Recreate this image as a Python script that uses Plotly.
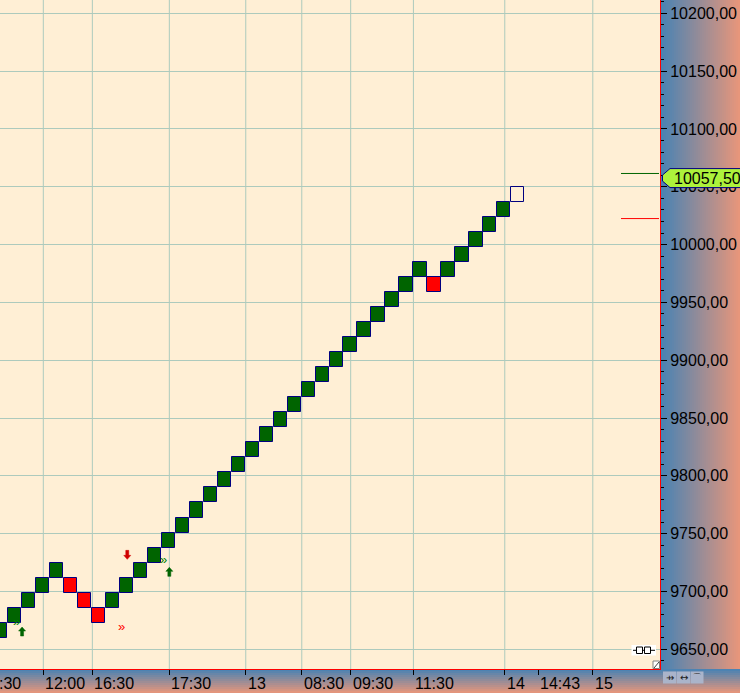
import plotly.graph_objects as go

# ---------------- data ----------------
brick_size = 13
brick_low = [9660, 9673, 9686, 9699, 9712, 9699, 9686, 9673, 9686, 9699,
             9712, 9725, 9738, 9751, 9764, 9777, 9790, 9803, 9816, 9829,
             9842, 9855, 9868, 9881, 9894, 9907, 9920, 9933, 9946, 9959,
             9972, 9959, 9972, 9985, 9998, 10011, 10024, 10037]
brick_kind = ["U", "U", "U", "U", "U", "D", "D", "D", "U", "U",
              "U", "U", "U", "U", "U", "U", "U", "U", "U", "U",
              "U", "U", "U", "U", "U", "U", "U", "U", "U", "U",
              "U", "D", "U", "U", "U", "U", "U", "O"]

time_tick_pos = [3.04, 6.55, 12.06, 17.53, 21.54, 25.04, 29.53, 36.07, 38.47, 42.37]
time_tick_labels = ["12:00", "16:30", "17:30", "13", "08:30", "09:30", "11:30", "14", "14:43", "15"]
time_grid_pos = [3.04, 6.55, 12.06, 17.53, 21.54, 25.04, 29.53, 36.07, 42.37]
edge_label = ":30"

last_price = 10057.5
level_green = 10061.5
level_red = 10022.5

arrow_x = [1.52, 9.05, 12.06]
arrow_price = [9669.3, 9727.8, 9720.9]
arrow_dir = ["up", "down", "up"]

chevron_x = [1.09, 8.64, 11.64]
chevron_price = [9673.7, 9669.7, 9728.1]
chevron_dir = ["up", "down", "up"]

# ---------------- layout constants ----------------
W, H = 740, 693
M = dict(l=0, r=80, t=0, b=24, pad=0)
PW = W - M["l"] - M["r"]
PH = H - M["t"] - M["b"]
X_RANGE = [-0.06, 47.18]
Y_RANGE = [9633.0, 10211.5]
ppx = PW / (X_RANGE[1] - X_RANGE[0])
ppy = PH / (Y_RANGE[1] - Y_RANGE[0])

BG = "#FFEFD5"
GRID = "#ADCABD"
NAVY = "#000080"
FONT = "Liberation Sans"


def px2paper_x(px):
    return px / PW


def px2paper_y(py):
    return 1 - py / PH


fill_map = {"U": "#006400", "D": "#FF0000", "O": BG}

fig = go.Figure()
fig.add_trace(go.Bar(
    x=list(range(len(brick_low))),
    y=[brick_size] * len(brick_low),
    base=brick_low,
    width=0.952,
    marker=dict(color=[fill_map[k] for k in brick_kind],
                line=dict(color=NAVY, width=1)),
    hoverinfo="skip",
    showlegend=False,
))

shapes = []

# vertical grid lines
for gx in time_grid_pos:
    shapes.append(dict(type="line", xref="x", yref="paper", x0=gx, x1=gx, y0=0, y1=1,
                       line=dict(color=GRID, width=1), layer="below"))

# gradient panels
def lerp(c1, c2, t):
    return "rgb(%d,%d,%d)" % tuple(round(a + (b - a) * t) for a, b in zip(c1, c2))

C1 = (70, 130, 180)
C2 = (233, 150, 122)
n_r = 40
for i in range(n_r):
    x0 = PW + i * (M["r"] / n_r)
    x1 = PW + (i + 1) * (M["r"] / n_r) + 0.6
    shapes.append(dict(type="rect", xref="paper", yref="paper",
                       x0=px2paper_x(x0), x1=px2paper_x(x1), y0=0, y1=1.01,
                       line=dict(width=0), fillcolor=lerp(C1, C2, (i + 0.5) / n_r), layer="below"))
n_b = 12
for i in range(n_b):
    y0 = PH + i * (M["b"] / n_b)
    y1 = PH + (i + 1) * (M["b"] / n_b) + 0.6
    shapes.append(dict(type="rect", xref="paper", yref="paper",
                       x0=-0.01, x1=px2paper_x(W + 2), y0=px2paper_y(y1), y1=px2paper_y(y0),
                       line=dict(width=0), fillcolor=lerp(C1, C2, (i + 0.5) / n_b), layer="below"))

# arrows (signals)
for ax_, ap, ad in zip(arrow_x, arrow_price, arrow_dir):
    s = 1 if ad == "up" else -1
    hw, sw = 3.5 / ppx, 1.5 / ppx
    hh, L = 4 / ppy, 9 / ppy
    pts = [(ax_, ap), (ax_ + hw, ap - s * hh), (ax_ + sw, ap - s * hh), (ax_ + sw, ap - s * L),
           (ax_ - sw, ap - s * L), (ax_ - sw, ap - s * hh), (ax_ - hw, ap - s * hh)]
    path = "M" + " L".join("%f,%f" % p for p in pts) + " Z"
    col = "#006400" if ad == "up" else "#D00000"
    shapes.append(dict(type="path", xref="x", yref="y", path=path,
                       fillcolor=col, line=dict(color=col, width=0.5), layer="above"))

# price levels
shapes.append(dict(type="line", xref="paper", yref="y", x0=px2paper_x(621), x1=px2paper_x(659),
                   y0=level_green, y1=level_green, line=dict(color="#006400", width=1)))
shapes.append(dict(type="line", xref="paper", yref="y", x0=px2paper_x(621), x1=px2paper_x(659),
                   y0=level_red, y1=level_red, line=dict(color="#FF0000", width=1)))

# last price label shape
top = last_price + 9.5 / ppy
bot = last_price - 9.5 / ppy
pts = [(670, top), (742, top), (742, bot), (670, bot),
       (662.5, last_price - 3 / ppy), (662.5, last_price + 3 / ppy)]
path = "M" + " L".join("%f,%f" % (px2paper_x(px), y) for px, y in pts) + " Z"
shapes.append(dict(type="path", xref="paper", yref="y", path=path,
                   fillcolor="#ADF23C", line=dict(color=NAVY, width=1), layer="above"))

# corner widgets
shapes.append(dict(type="rect", xref="paper", yref="paper",
                   x0=px2paper_x(631.5), x1=px2paper_x(656), y0=px2paper_y(655.5), y1=px2paper_y(645),
                   fillcolor="white", line=dict(width=0), layer="above"))
shapes.append(dict(type="line", xref="paper", yref="paper",
                   x0=px2paper_x(633), x1=px2paper_x(655), y0=px2paper_y(650.3), y1=px2paper_y(650.3),
                   line=dict(color="black", width=1), layer="above"))
shapes.append(dict(type="rect", xref="paper", yref="paper",
                   x0=px2paper_x(636.5), x1=px2paper_x(642.5), y0=px2paper_y(653.5), y1=px2paper_y(647),
                   fillcolor="white", line=dict(color="black", width=1), layer="above"))
shapes.append(dict(type="rect", xref="paper", yref="paper",
                   x0=px2paper_x(644.5), x1=px2paper_x(650.5), y0=px2paper_y(653.5), y1=px2paper_y(647),
                   fillcolor="white", line=dict(color="black", width=1), layer="above"))
shapes.append(dict(type="rect", xref="paper", yref="paper",
                   x0=px2paper_x(653), x1=px2paper_x(659.5), y0=px2paper_y(668.5), y1=px2paper_y(661),
                   fillcolor="white", line=dict(color="#808080", width=1), layer="above"))
shapes.append(dict(type="line", xref="paper", yref="paper",
                   x0=px2paper_x(654), x1=px2paper_x(659), y0=px2paper_y(668), y1=px2paper_y(662),
                   line=dict(color="#404040", width=1), layer="above"))
for bx0, bx1 in [(663, 676.5), (677, 690), (690.5, 703.5)]:
    shapes.append(dict(type="rect", xref="paper", yref="paper",
                       x0=px2paper_x(bx0), x1=px2paper_x(bx1), y0=px2paper_y(683.5), y1=px2paper_y(671.5),
                       fillcolor="#AAB4CA", line=dict(width=0), layer="above"))

annotations = []
for pos, lab in zip(time_tick_pos, time_tick_labels):
    annotations.append(dict(x=pos, xref="x", y=0, yref="paper", text=lab, showarrow=False,
                            xanchor="left", yanchor="top", xshift=0, yshift=-4,
                            font=dict(family=FONT, size=16, color="black")))
annotations.append(dict(x=0, xref="paper", y=0, yref="paper", text=edge_label, showarrow=False,
                        xanchor="left", yanchor="top", xshift=-3, yshift=-4,
                        font=dict(family=FONT, size=16, color="black")))
for cx, cp, cd in zip(chevron_x, chevron_price, chevron_dir):
    annotations.append(dict(x=cx, xref="x", y=cp, yref="y", text="»", showarrow=False,
                            font=dict(family=FONT, size=13, color="#008000" if cd == "up" else "#FF0000")))
annotations.append(dict(x=px2paper_x(672), xref="paper", y=last_price, yref="y",
                        text=("%.2f" % last_price).replace(".", ","), showarrow=False,
                        xanchor="left", yanchor="middle",
                        font=dict(family=FONT, size=16, color="black")))
for bx, g in [(669.8, "⇸"), (683.5, "↔"), (697, "⌒")]:
    annotations.append(dict(x=px2paper_x(bx), xref="paper", y=px2paper_y(677.5), yref="paper",
                            text=g, showarrow=False, xanchor="center", yanchor="middle",
                            font=dict(family="DejaVu Sans", size=10, color="#202020")))

fig.update_layout(
    width=W, height=H, margin=M,
    paper_bgcolor=BG, plot_bgcolor=BG,
    separators=", ",
    showlegend=False,
    shapes=shapes,
    annotations=annotations,
    bargap=0,
    xaxis=dict(range=X_RANGE, tickmode="array", tickvals=time_tick_pos, ticktext=[""] * len(time_tick_pos),
               showticklabels=False, showgrid=False, zeroline=False,
               ticks="outside", ticklen=5, tickcolor="black", tickwidth=1,
               showline=True, linecolor="#FF0000", linewidth=1, fixedrange=True),
    yaxis=dict(range=Y_RANGE, side="right", dtick=50, tick0=0, tickformat=".2f",
               showgrid=True, gridcolor=GRID, gridwidth=1, zeroline=False,
               ticks="outside", ticklen=6, tickcolor="black", tickwidth=1,
               minor=dict(dtick=10, ticks="outside", ticklen=3, tickcolor="black", showgrid=False),
               tickfont=dict(family=FONT, size=16, color="black"),
               showline=True, linecolor="#FF0000", linewidth=1, fixedrange=True),
)

fig.write_html("out.html", config={"displayModeBar": False},
               post_script="document.body.style.margin='0';document.body.style.padding='0';")
